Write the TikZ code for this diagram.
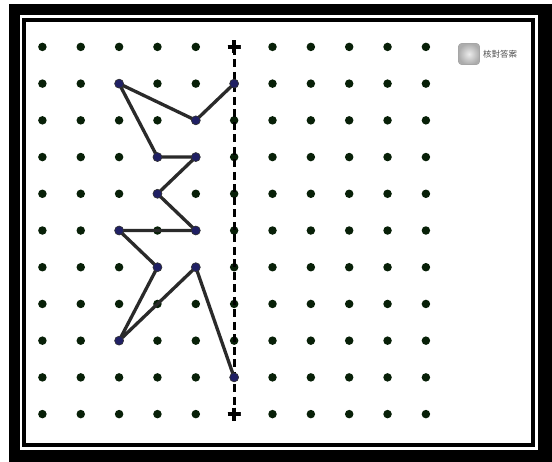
\documentclass[tikz,border=0pt]{standalone}
\usepackage{fontspec}
\newfontfamily\cjk{Noto Sans CJK TC}
\definecolor{griddot}{RGB}{8,32,8}
\definecolor{vertdot}{RGB}{32,32,100}
\definecolor{edgecol}{RGB}{42,42,42}
\definecolor{btntext}{RGB}{80,80,80}
\tikzset{
  gdot/.style={circle,fill=griddot,inner sep=0pt,minimum size=8.5pt},
  vdot/.style={circle,fill=vertdot,draw=black!80,line width=0.6pt,inner sep=0pt,minimum size=9pt},
  edge/.style={draw=edgecol,line width=3.3pt,line join=round,line cap=round},
  mirror/.style={draw=black,line width=3pt,dash pattern=on 8pt off 4.5pt},
  plusmark/.style={rectangle,inner sep=0pt,minimum size=13pt,
    path picture={\draw[black,line width=3.5pt]
      (path picture bounding box.north) -- (path picture bounding box.south)
      (path picture bounding box.west) -- (path picture bounding box.east);}},
  btn/.style={rectangle,rounded corners=3pt,minimum size=21pt,inner sep=0pt,
    inner color=gray!15,outer color=gray!65,draw=gray!70,line width=0.6pt},
  btnlabel/.style={font=\cjk\fontsize{8.5}{9}\selectfont,text=btntext,inner sep=0pt,anchor=west}
}
\begin{document}
\begin{tikzpicture}[x=1pt,y=-1pt]
\useasboundingbox (0,0) rectangle (552,461);
% frame
\fill[white] (0,0) rectangle (552,461);
\fill[black] (9,4) rectangle (560,470);
\fill[white] (20,15) rectangle (538,450);
\draw[black,line width=4pt] (24,20) rectangle (533,445);
% grid dots
\foreach \i in {0,...,10}{
  \foreach \j in {0,...,10}{
    \ifnum\i=5
      \ifnum\j=0 \else\ifnum\j=10 \else
        \node[gdot] (d-\i-\j) at ({42.4+38.35*\i},{46.9+36.72*\j}) {};
      \fi\fi
    \else
      \node[gdot] (d-\i-\j) at ({42.4+38.35*\i},{46.9+36.72*\j}) {};
    \fi
  }
}
% mirror line
\node[plusmark] (mtop) at ({42.4+38.35*5},{46.9}) {};
\node[plusmark] (mbot) at ({42.4+38.35*5},{46.9+36.72*10}) {};
\draw[mirror] (mtop.center) -- (mbot.center);
\node[plusmark] at (mtop) {};
\node[plusmark] at (mbot) {};
% polyline
\draw[edge] (d-5-1.center) -- (d-4-2.center) -- (d-2-1.center) -- (d-3-3.center)
  -- (d-4-3.center) -- (d-3-4.center) -- (d-4-5.center) -- (d-2-5.center)
  -- (d-3-6.center) -- (d-2-8.center) -- (d-4-6.center) -- (d-5-9.center);
% vertices
\foreach \v in {5-1,4-2,2-1,3-3,4-3,3-4,4-5,2-5,3-6,2-8,4-6,5-9}{
  \node[vdot] (v-\v) at (d-\v) {};
}
% button
\node[btn] (button) at (469,54) {};
\node[btnlabel] (blabel) at (483,54) {核對答案};
\end{tikzpicture}
\end{document}
